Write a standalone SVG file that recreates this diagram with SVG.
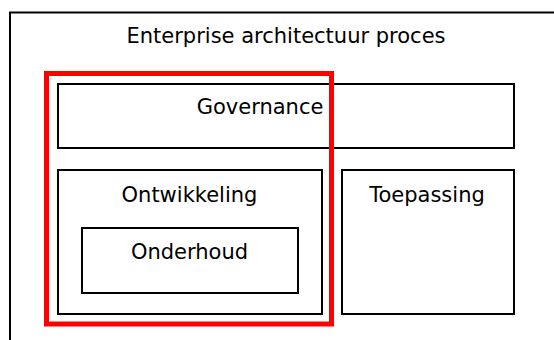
<svg xmlns="http://www.w3.org/2000/svg" width="554" height="340" viewBox="0 0 554 340">
<style>
.box{fill:none;stroke:#000;stroke-width:2}
.lbl{font-family:"DejaVu Sans",Verdana,sans-serif;font-size:21px;fill:#000;text-anchor:middle}
</style>
<rect width="554" height="340" fill="#fff"/>
<g id="enterprise">
<rect class="box" x="10" y="12.5" width="560" height="340"/>
<text class="lbl" x="286" y="43">Enterprise architectuur proces</text>
</g>
<g id="governance">
<rect class="box" x="58" y="84" width="456" height="64"/>
<text class="lbl" x="260" y="114">Governance</text>
</g>
<g id="ontwikkeling">
<rect class="box" x="58" y="170" width="264" height="144"/>
<text class="lbl" x="189.5" y="201.5">Ontwikkeling</text>
</g>
<g id="onderhoud">
<rect class="box" x="82" y="228" width="216" height="65"/>
<text class="lbl" x="189.5" y="259">Onderhoud</text>
</g>
<g id="toepassing">
<rect class="box" x="342" y="170" width="172" height="144"/>
<text class="lbl" x="427" y="201.5">Toepassing</text>
</g>
<g id="highlight">
<rect x="46.5" y="73.5" width="285" height="250.5" fill="none" stroke="#f00" stroke-width="5"/>
</g>
<g id="connectors"/>
</svg>
